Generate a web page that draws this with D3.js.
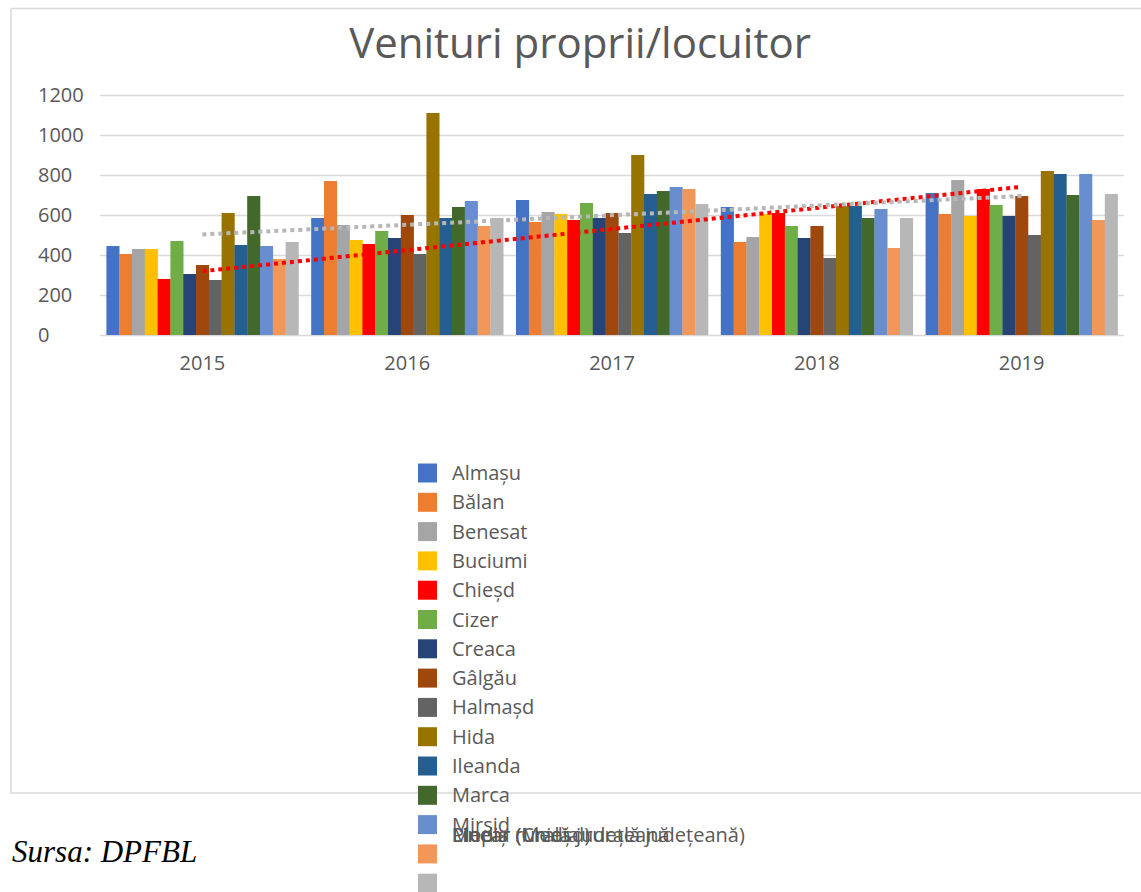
<!DOCTYPE html>
<html><head><meta charset="utf-8">
<script src="https://cdn.jsdelivr.net/npm/d3@7"></script>
<style>body{margin:0;background:#fff}svg{display:block}</style>
</head><body><svg id="c" width="1141" height="892" font-family="Open Sans, sans-serif"></svg>
<script>
const years = ["2015","2016","2017","2018","2019"];
const seriesNames = ["Almașu","Bălan","Benesat","Buciumi","Chieșd","Cizer","Creaca","Gâlgău","Halmașd","Hida","Ileanda","Marca","Mirsid","Plopiș","Media rurală județeană"];
const seriesColors = ["#4472C4","#ED7D31","#A5A5A5","#FFC000","#FF0000","#70AD47","#264478","#9E480E","#636363","#997300","#255E91","#43682B","#698ED0","#F1975A","#B7B7B7"];
const almasu  = [445, 585, 675, 640, 710];
const balan   = [405, 770, 565, 465, 605];
const benesat = [430, 550, 615, 490, 775];
const buciumi = [430, 475, 605, 605, 595];
const chiesd  = [280, 455, 575, 610, 730];
const cizer   = [470, 520, 660, 545, 650];
const creaca  = [305, 485, 585, 485, 595];
const galgau  = [350, 600, 610, 545, 695];
const halmasd = [275, 405, 510, 385, 500];
const hida    = [610, 1110, 900, 645, 820];
const ileanda = [450, 585, 705, 645, 805];
const marca   = [695, 640, 720, 585, 700];
const mirsid  = [445, 670, 740, 630, 805];
const plopis  = [380, 545, 730, 435, 575];
const media   = [465, 585, 655, 585, 705];
const seriesValues = [almasu,balan,benesat,buciumi,chiesd,cizer,creaca,galgau,halmasd,hida,ileanda,marca,mirsid,plopis,media];
const yTicks = [0,200,400,600,800,1000,1200];
const trendSeries = [{idx:4,color:"#FF0000"},{idx:14,color:"#B7B7B7"}];
const overlapLabels = ["Plopiș","Media rurală județeană","Linear (Chieșd)","Linear (Media rurală județeană)"];

const svg = d3.select("#c");
const textCol = "#595959", gridCol = "#d9d9d9";

// chart frame
svg.append("path").attr("d","M11,8.5 H1141 M11,8.5 V793 H1141").attr("fill","none").attr("stroke",gridCol).attr("stroke-width",1.5);

svg.append("text").attr("x",580).attr("y",58).attr("text-anchor","middle")
  .attr("font-size",42).attr("fill",textCol).text("Venituri proprii/locuitor");

const x0 = d3.scaleBand().domain(years).range([100,1124]).paddingInner(1/16).paddingOuter(1/32);
const x1 = d3.scaleBand().domain(d3.range(seriesNames.length)).range([0,x0.bandwidth()]);
const y = d3.scaleLinear().domain([0,1200]).range([335,95]);

// gridlines
const yAxis = d3.axisLeft(y).tickValues(yTicks).tickSize(-(1124-100)).tickFormat("");
const ga = svg.append("g").attr("transform","translate(100,0)").call(yAxis);
ga.select(".domain").remove();
ga.selectAll(".tick line").attr("stroke",gridCol).attr("stroke-width",1.3);
svg.append("g").selectAll("text").data(yTicks).join("text")
  .attr("x",38).attr("y",d=>y(d)+7).attr("font-size",20).attr("fill",textCol).text(d=>d);

// bars
const g = svg.append("g");
years.forEach((yr,i)=>{
  g.append("g").attr("transform",`translate(${x0(yr)},0)`)
   .selectAll("rect").data(seriesValues.map((s,k)=>({k,v:s[i]}))).join("rect")
   .attr("x",d=>x1(d.k)).attr("width",x1.bandwidth()+0.3)
   .attr("y",d=>y(d.v)).attr("height",d=>y(0)-y(d.v)).attr("fill",d=>seriesColors[d.k]);
});

// x labels
const xAxis = d3.axisBottom(x0).tickSize(0);
const gx = svg.append("g").attr("transform","translate(0,335)").call(xAxis);
gx.select(".domain").remove();
gx.attr("font-family",null).attr("font-size",null);
gx.selectAll("text").attr("font-size",20).attr("fill",textCol).attr("dy",0).attr("y",35);

// trendlines (linear regression)
trendSeries.forEach(t=>{
  const vals = seriesValues[t.idx];
  const n = vals.length, xs = d3.range(n);
  const mx = d3.mean(xs), my = d3.mean(vals);
  const slope = d3.sum(xs,(xx,i)=>(xx-mx)*(vals[i]-my))/d3.sum(xs,xx=>(xx-mx)**2);
  const icpt = my - slope*mx;
  const pts = [0,n-1].map(i=>[x0(years[i])+x0.bandwidth()/2, y(icpt+slope*i)]);
  svg.append("path").attr("d",d3.line()(pts)).attr("stroke",t.color).attr("stroke-width",4)
    .attr("stroke-dasharray","4,4").attr("fill","none");
});

// legend
const lg = svg.append("g");
seriesNames.forEach((nm,i)=>{
  const cy = 473 + i*29.3;
  lg.append("rect").attr("x",418).attr("y",cy-9.5).attr("width",19).attr("height",19).attr("fill",seriesColors[i]);
  if(i<13) lg.append("text").attr("x",452).attr("y",cy+7).attr("font-size",20).attr("fill",textCol).text(nm);
});
overlapLabels.forEach(l=>{
  lg.append("text").attr("x",452).attr("y",842).attr("font-size",20).attr("fill",textCol).text(l);
});

svg.append("text").attr("x",12).attr("y",862).attr("font-family","Liberation Serif, Times New Roman, serif")
  .attr("font-style","italic").attr("font-size",31).attr("fill","#000").text("Sursa: DPFBL");
</script></body></html>
